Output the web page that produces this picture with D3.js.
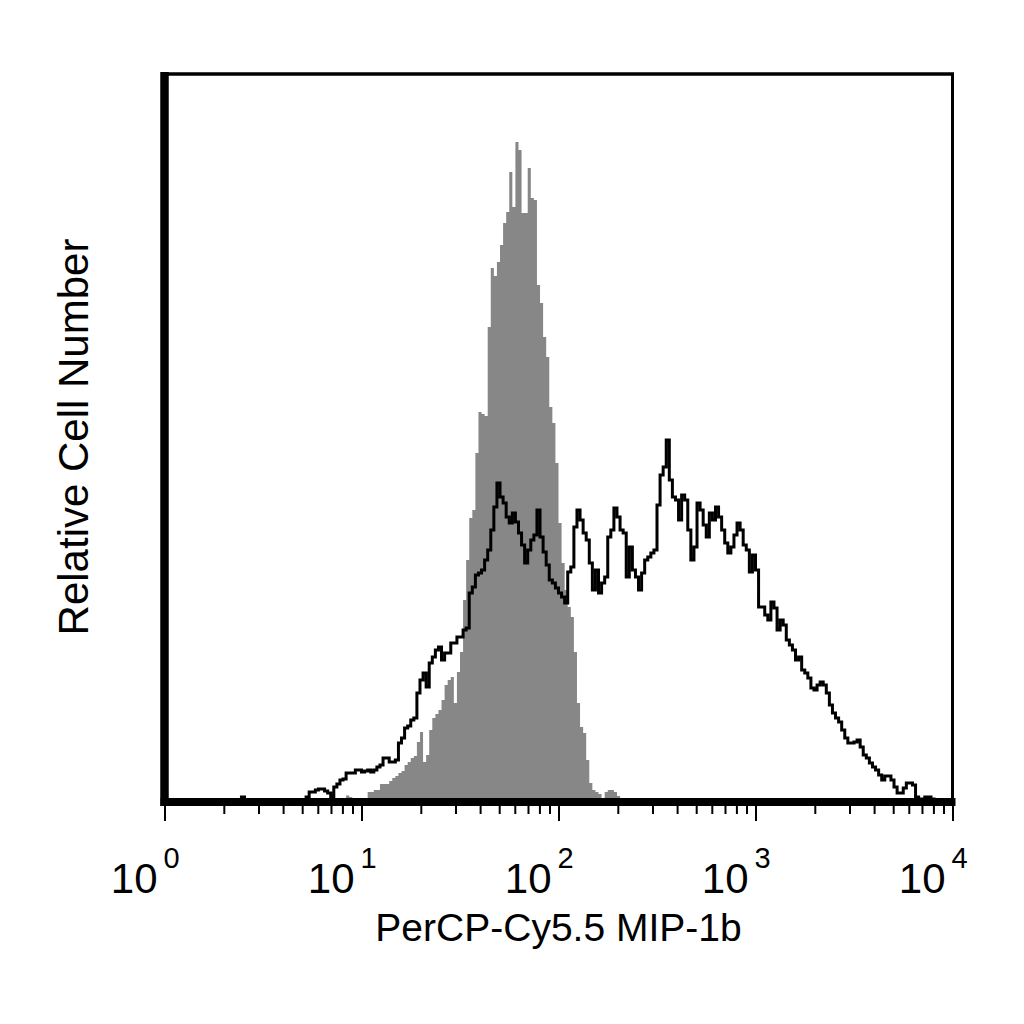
<!DOCTYPE html>
<html>
<head>
<meta charset="utf-8">
<script src="https://cdn.jsdelivr.net/npm/d3@7/dist/d3.min.js"></script>
<style>
  html, body { margin: 0; padding: 0; background: #fff; }
  svg text { font-family: "Liberation Sans", Arial, sans-serif; fill: #000; }
</style>
</head>
<body>
<script>
//-----------------Data (256 channels over 4 decades)----------------

const xDomain = [1, 10000];
const channelsPerDecade = 64;
const yMax = 242;

const decadeLabels = ["0", "1", "2", "3", "4"];

// filled grey histogram (isotype control), first channel = shadedStart
const shadedStart = 58;
const shadedCounts = [0, 1.5, 1, 0, 0, 0, 0, 0, 2.7, 2.7, 3.3, 3.3, 5.3, 5.3, 5.3, 6.3, 7.3, 8, 9, 9.7,
  11.7, 12.7, 14, 14.7, 19.3, 22.7, 12.7, 15, 23.3, 27.3, 28.7, 30, 33.3, 38.3, 40, 41, 32.3, 42.7, 49.3, 66.7,
  80, 94, 96.7, 115.7, 129.3, 128.7, 128, 157.7, 177.3, 174.7, 179.3, 185, 192.3, 196, 209.3, 197.7, 219.3, 216.7, 195.7, 195.7,
  210.7, 200.7, 200, 171.7, 165.7, 154.3, 147.7, 131, 125.7, 112.3, 92.3, 79, 70, 64.3, 61, 49.3, 32.3, 24.3, 22.3, 13.3,
  5.7, 3.3, 2.7, 2, 0, 2.7, 3.3, 3.3, 2.7, 1.3, 0];

// open black histogram (stained sample), first channel = lineStart
const lineStart = 24;
const lineCounts = [0, 1, 0, 0, 0, 0, 0, 0, 0, 0, 0, 0, 0, 0, 0, 0, 0, 0, 0, 0, 0, 0,
  1, 2.7, 2.7, 3.3, 3.7, 3.7, 3, 2.3, 1, 4.3, 5.3, 6.7, 7, 9, 9, 9, 10, 10, 9.3, 9.7,
  10, 9.3, 10, 11, 11.7, 14, 14, 12.7, 12.7, 13.3, 19, 20.7, 24, 24.7, 26.7, 27.3, 35.7, 40, 42.3, 37.7,
  45.7, 47.7, 50, 51, 46.7, 49, 49, 52.3, 52.3, 54.3, 54.3, 56.7, 57.3, 69, 71, 75, 75.7, 76.7, 80, 83.3,
  90, 97.7, 105.7, 101, 99, 94.3, 92.3, 95.7, 92.7, 89, 85, 79, 83.3, 86.7, 88.3, 96.7, 87.7, 82.7, 78.3, 73.3,
  72.3, 70.7, 69, 67.7, 65.7, 76, 77.7, 91, 96.7, 93.3, 89, 86.7, 79, 70, 76.7, 69, 72.3, 74.3, 87.7, 90,
  97.3, 94.3, 90, 89, 74.3, 84.3, 76.7, 74.3, 70, 75.7, 80, 81, 82.3, 83.3, 98.3, 108.3, 111, 120, 106.7, 101,
  100, 93.3, 101.7, 100, 90, 80, 84.3, 99, 96.7, 91.7, 87.7, 95.7, 93.3, 97.7, 94.3, 90, 85.7, 82.3, 84.3, 88.3,
  92.3, 90, 85, 83.3, 76, 81.7, 76.7, 64.3, 64.3, 61.7, 60, 66, 64, 56.7, 60, 58.3, 53.3, 51.7, 50, 46.7,
  47.7, 43.3, 42.3, 40.7, 37.3, 36.7, 38.3, 39.3, 38.3, 35.7, 31.7, 29, 27.3, 26, 23.3, 20.7, 19, 19, 19.3, 20,
  17.7, 15, 14, 12.3, 11, 10, 8.3, 6.7, 8, 8, 6.7, 4.3, 2.3, 2.3, 4, 5.7, 5.7, 5, 1, 0,
  0.3, 1, 1, 0.3, 0, 0];

const xTitle = "PerCP-Cy5.5 MIP-1b";
const yTitle = "Relative Cell Number";

//-----------------Svg----------------

const width = 1024;
const height = 1024;
const plotLeft = 164.5, plotRight = 952.5, plotTop = 74, plotBottom = 800;

const svg = d3.select("body").append("svg").attr("width", width).attr("height", height);

const xScale = d3.scaleLog().domain(xDomain).range([plotLeft, plotRight]);
const yScale = d3.scaleLinear().domain([0, yMax]).range([plotBottom, plotTop]);

const channelValue = (ch) => Math.pow(10, ch / channelsPerDecade);

// step points, with one closing point at the end of the last channel
function toSteps(start, counts) {
  const pts = counts.map((c, i) => ({ ch: start + i, c: c }));
  pts.push({ ch: start + counts.length, c: counts[counts.length - 1] });
  return pts;
}

//-----------------Grey histogram----------------

const area = d3
  .area()
  .curve(d3.curveStepAfter)
  .x((d) => xScale(channelValue(d.ch)))
  .y0(yScale(0))
  .y1((d) => yScale(d.c));

svg.append("path").datum(toSteps(shadedStart, shadedCounts)).attr("d", area).style("fill", "#878787").style("stroke", "none");

//-----------------Black histogram----------------

const line = d3
  .line()
  .curve(d3.curveStepAfter)
  .x((d) => xScale(channelValue(d.ch)))
  .y((d) => yScale(d.c));

svg
  .append("path")
  .datum(toSteps(lineStart, lineCounts))
  .attr("d", line)
  .style("fill", "none")
  .style("stroke", "#000")
  .style("stroke-width", 3)
  .style("stroke-linejoin", "miter");

//-----------------Frame----------------

svg.append("line").attr("x1", plotLeft).attr("x2", plotRight + 1.5).attr("y1", plotTop).attr("y2", plotTop).style("stroke", "#000").style("stroke-width", 3.5);
svg.append("line").attr("x1", plotRight).attr("x2", plotRight).attr("y1", plotTop).attr("y2", plotBottom + 2).style("stroke", "#000").style("stroke-width", 3);
svg.append("line").attr("x1", plotLeft).attr("x2", plotLeft).attr("y1", plotTop - 2).attr("y2", plotBottom + 6).style("stroke", "#000").style("stroke-width", 8.5);
svg.append("line").attr("x1", plotLeft - 4).attr("x2", plotRight + 3).attr("y1", plotBottom + 2).attr("y2", plotBottom + 2).style("stroke", "#000").style("stroke-width", 8);

//-----------------Axis ticks----------------

const allTicks = xScale.ticks();
const majorTicks = allTicks.filter((t) => Number.isInteger(Math.log10(t)));
const minorTicks = allTicks.filter((t) => !Number.isInteger(Math.log10(t)));

const minorAxis = svg
  .append("g")
  .attr("transform", `translate(0, ${plotBottom + 6})`)
  .call(d3.axisBottom(xScale).tickValues(minorTicks).tickSize(8).tickFormat(""));
const majorAxis = svg
  .append("g")
  .attr("transform", `translate(0, ${plotBottom + 6})`)
  .call(d3.axisBottom(xScale).tickValues(majorTicks).tickSize(15).tickFormat(""));
[minorAxis, majorAxis].forEach((g) => {
  g.select(".domain").remove();
  g.selectAll(".tick line").style("stroke", "#000").style("stroke-width", 2);
});

//-----------------Tick labels----------------

majorTicks.forEach((t, i) => {
  const x = xScale(t);
  svg.append("text").text("10").attr("x", x - 7).attr("y", 893).style("font-size", "42px").style("text-anchor", "end");
  svg.append("text").text(decadeLabels[i]).attr("x", x - 1).attr("y", 868).style("font-size", "29px").style("text-anchor", "start");
});

//-----------------Titles----------------

svg
  .append("text")
  .text(xTitle)
  .attr("x", (plotLeft + plotRight) / 2)
  .attr("y", 941)
  .style("font-size", "39px")
  .style("text-anchor", "middle");

svg
  .append("text")
  .text(yTitle)
  .attr("transform", `translate(88, ${(plotTop + plotBottom) / 2}) rotate(-90)`)
  .style("font-size", "42px")
  .style("text-anchor", "middle");
</script>
</body>
</html>
